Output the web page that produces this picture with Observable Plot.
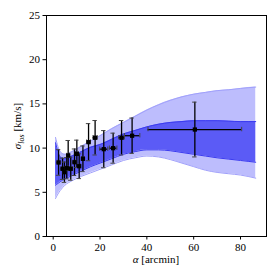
<!DOCTYPE html>
<html><head><meta charset="utf-8">
<script src="https://cdn.jsdelivr.net/npm/d3@7"></script>
<script src="https://cdn.jsdelivr.net/npm/@observablehq/plot@0.6"></script>
<style>body{margin:0;background:#fff} svg text{font-family:'Liberation Serif',serif}</style>
</head><body><div id="chart"></div>
<script>
// Model bands
const bandAlpha = [1, 2, 3, 5, 8, 12, 16, 20, 25, 30, 35, 40, 45, 50, 55, 60, 65, 70, 75, 80, 86.5];
const outerHigh = [11.2, 10.2, 9.6, 9.3, 9.6, 10.2, 10.8, 11.4, 12.2, 12.9, 13.6, 14.3, 14.9, 15.4, 15.8, 16.1, 16.3, 16.5, 16.6, 16.75, 16.9];
const innerHigh = [10.6, 9.6, 9.0, 8.8, 9.1, 9.6, 10.1, 10.4, 11.0, 11.6, 12.0, 12.4, 12.7, 12.9, 13.0, 13.1, 13.1, 13.1, 13.05, 13.0, 13.0];
const innerLow  = [5.8, 6.0, 6.2, 6.5, 6.9, 7.4, 7.9, 8.3, 8.8, 9.3, 9.6, 9.8, 9.8, 9.7, 9.5, 9.3, 9.1, 8.9, 8.75, 8.6, 8.4];
const outerLow  = [4.3, 4.8, 5.2, 5.8, 6.3, 6.8, 7.2, 7.6, 8.1, 8.6, 8.9, 9.1, 9.0, 8.7, 8.3, 7.9, 7.5, 7.25, 7.1, 6.95, 6.6];

// Measurements
const obsAlpha = [2.3, 4.0, 4.8, 5.8, 6.4, 7.5, 9.1, 10.1, 11.1, 12.7, 15.1, 17.9, 21.6, 25.6, 29.2, 33.7, 60.5];
const obsSigma = [8.37, 7.66, 7.27, 7.73, 9.16, 7.66, 8.4, 9.35, 7.95, 8.79, 10.67, 11.17, 9.88, 9.99, 11.17, 11.4, 12.1];
const obsSigmaErr = [1.45, 1.2, 1.15, 1.2, 1.7, 1.3, 1.5, 1.55, 1.4, 1.45, 2.1, 1.95, 2.1, 1.7, 1.95, 2.0, 3.1];
const obsAlphaErr = [0.6, 0.6, 0.6, 0.6, 0.6, 0.6, 0.6, 0.6, 0.6, 0.6, 0.8, 0.9, 1.7, 1.6, 1.2, 3.3, 20];

const xTicks = [0, 20, 40, 60, 80];
const yTicks = [0, 5, 10, 15, 20, 25];

const band = bandAlpha.map((a, i) => ({a, oh: outerHigh[i], ih: innerHigh[i], il: innerLow[i], ol: outerLow[i]}));
const obs = obsAlpha.map((a, i) => ({a, s: obsSigma[i], se: obsSigmaErr[i], ae: obsAlphaErr[i]}));

const font = "'Liberation Serif', serif";
const lightFill = "#bdbdfd", lightEdge = "#a0a0fb";
const darkFill = "#5b5bf6", darkEdge = "#3a3af0";
const curve = "monotone-x";

const plot = Plot.plot({
  width: 280, height: 280,
  marginLeft: 46, marginRight: 14, marginTop: 15, marginBottom: 44,
  style: {fontFamily: font, fontSize: "11px", background: "#fff", color: "#000"},
  x: {domain: [-2.86, 91.1], ticks: xTicks, tickSize: 3.5, tickPadding: 3, label: null},
  y: {domain: [0, 25], ticks: yTicks, tickSize: 3.5, tickPadding: 3, label: null},
  marks: [
    Plot.areaY(band, {x: "a", y1: "ol", y2: "oh", fill: lightFill, curve}),
    Plot.line(band, {x: "a", y: "oh", stroke: lightEdge, strokeWidth: 1, curve}),
    Plot.line(band, {x: "a", y: "ol", stroke: lightEdge, strokeWidth: 1, curve}),
    Plot.areaY(band, {x: "a", y1: "il", y2: "ih", fill: darkFill, curve}),
    Plot.line(band, {x: "a", y: "ih", stroke: darkEdge, strokeWidth: 1, curve}),
    Plot.line(band, {x: "a", y: "il", stroke: darkEdge, strokeWidth: 1, curve}),
    // vertical error bars
    Plot.ruleX(obs, {x: "a", y1: d => d.s - d.se, y2: d => d.s + d.se, stroke: "#000", strokeWidth: 1.3}),
    Plot.ruleY(obs, {y: d => d.s + d.se, x1: "a", x2: "a", insetLeft: -2.2, insetRight: -2.2, stroke: "#444", strokeWidth: 1}),
    Plot.ruleY(obs, {y: d => d.s - d.se, x1: "a", x2: "a", insetLeft: -2.2, insetRight: -2.2, stroke: "#444", strokeWidth: 1}),
    // horizontal error bars
    Plot.ruleY(obs, {y: "s", x1: d => d.a - d.ae, x2: d => d.a + d.ae, stroke: "#000", strokeWidth: 1.3}),
    Plot.ruleX(obs, {x: d => d.a - d.ae, y1: "s", y2: "s", insetTop: -2.2, insetBottom: -2.2, stroke: "#444", strokeWidth: 1}),
    Plot.ruleX(obs, {x: d => d.a + d.ae, y1: "s", y2: "s", insetTop: -2.2, insetBottom: -2.2, stroke: "#444", strokeWidth: 1}),
    Plot.dot(obs, {x: "a", y: "s", symbol: "square", r: 2.4, fill: "#000", stroke: null}),
    Plot.frame({stroke: "#000", strokeWidth: 1})
  ]
});

const svg = d3.select(plot);
svg.append("text")
  .attr("x", 156).attr("y", 263)
  .attr("text-anchor", "middle")
  .style("font-family", font).style("font-size", "11px")
  .html('<tspan font-style="italic">α</tspan> [arcmin]');
svg.append("text")
  .attr("transform", "translate(21,126) rotate(-90)")
  .attr("text-anchor", "middle")
  .style("font-family", font).style("font-size", "11px")
  .html('<tspan font-style="italic">σ</tspan><tspan font-style="italic" font-size="8px" dy="2.5">los</tspan><tspan dy="-2.5"> [km/s]</tspan>');

document.getElementById("chart").appendChild(plot);
</script>
</body></html>
